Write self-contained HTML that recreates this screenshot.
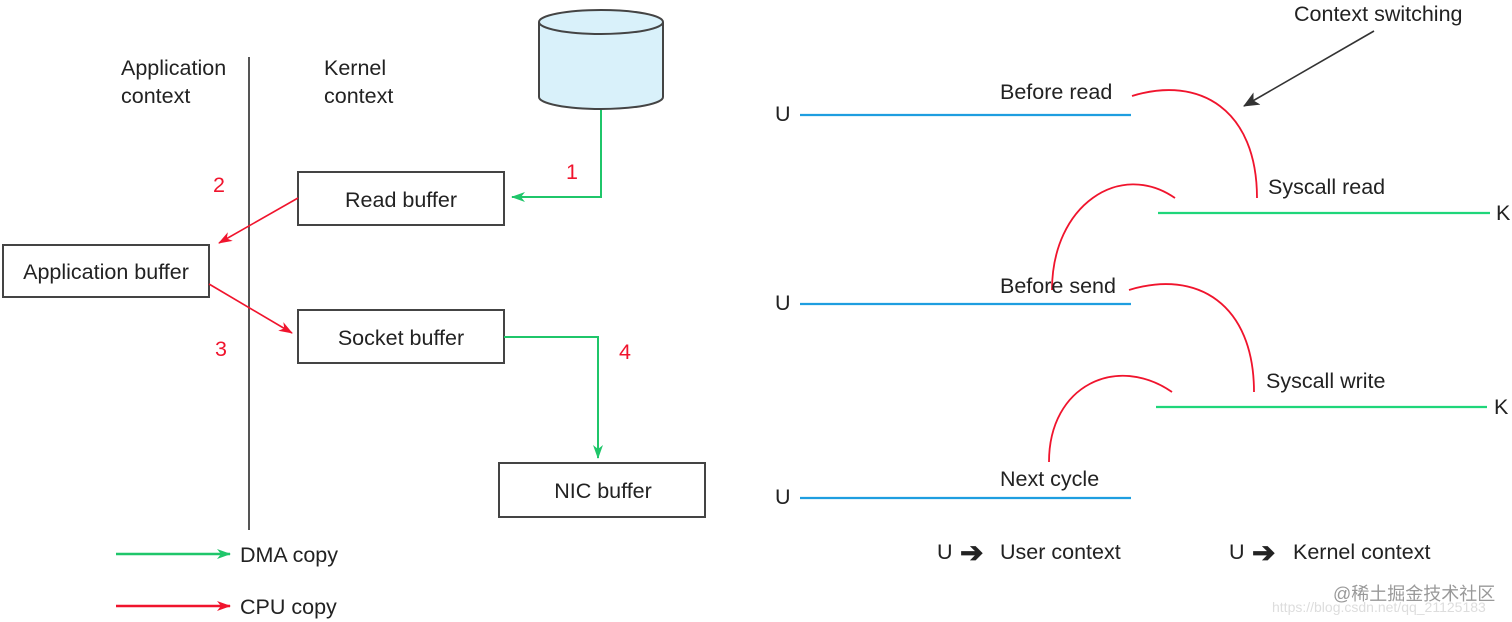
<!DOCTYPE html>
<html><head><meta charset="utf-8"><style>
html,body{margin:0;padding:0;background:#fff;width:1512px;height:622px;overflow:hidden}
svg{display:block}
text{font-family:"Liberation Sans","Noto Sans CJK SC",sans-serif;font-size:21.5px;fill:#222}
.r{fill:#f0142d}
</style></head><body>
<svg width="1512" height="622" viewBox="0 0 1512 622" xmlns="http://www.w3.org/2000/svg">
<defs>
<marker id="ag" markerWidth="14" markerHeight="12" refX="13" refY="6" orient="auto" markerUnits="userSpaceOnUse"><path d="M0,1 L14,6 L0,11 L4,6z" fill="#1fc66a"/></marker>
<marker id="ar" markerWidth="14" markerHeight="12" refX="13" refY="6" orient="auto" markerUnits="userSpaceOnUse"><path d="M0,1 L14,6 L0,11 L4,6z" fill="#f0142d"/></marker>
<marker id="ak" markerWidth="16" markerHeight="14" refX="15" refY="7" orient="auto" markerUnits="userSpaceOnUse"><path d="M0,0 L16,7 L0,14 L4,7z" fill="#333"/></marker>
</defs>
<line x1="249" y1="57" x2="249" y2="530" stroke="#555" stroke-width="2"/>
<text x="121" y="75">Application</text>
<text x="121" y="103">context</text>
<text x="324" y="75">Kernel</text>
<text x="324" y="103">context</text>
<path d="M539,22 L539,97 A62,12 0 0 0 663,97 L663,22" fill="#d9f1fa" stroke="#444" stroke-width="2"/>
<ellipse cx="601" cy="22" rx="62" ry="12" fill="#d9f1fa" stroke="#444" stroke-width="2"/>
<polyline points="601,110 601,197 512,197" fill="none" stroke="#1fc66a" stroke-width="2" marker-end="url(#ag)"/>
<text x="566" y="179" class="r">1</text>
<rect x="298" y="172" width="206" height="53" fill="#fff" stroke="#444" stroke-width="2"/>
<text x="401" y="207" text-anchor="middle">Read buffer</text>
<rect x="3" y="245" width="206" height="52" fill="#fff" stroke="#444" stroke-width="2"/>
<text x="106" y="279" text-anchor="middle">Application buffer</text>
<rect x="298" y="310" width="206" height="53" fill="#fff" stroke="#444" stroke-width="2"/>
<text x="401" y="345" text-anchor="middle">Socket buffer</text>
<rect x="499" y="463" width="206" height="54" fill="#fff" stroke="#444" stroke-width="2"/>
<text x="603" y="498" text-anchor="middle">NIC buffer</text>
<line x1="298" y1="198" x2="219" y2="243" stroke="#f0142d" stroke-width="1.6" marker-end="url(#ar)"/>
<line x1="209" y1="284" x2="292" y2="333" stroke="#f0142d" stroke-width="1.6" marker-end="url(#ar)"/>
<text x="213" y="192" class="r">2</text>
<text x="215" y="356" class="r">3</text>
<polyline points="504,337 598,337 598,458" fill="none" stroke="#1fc66a" stroke-width="2" marker-end="url(#ag)"/>
<text x="619" y="359" class="r">4</text>
<line x1="116" y1="554" x2="230" y2="554" stroke="#1fc66a" stroke-width="2.5" marker-end="url(#ag)"/>
<text x="240" y="562">DMA copy</text>
<line x1="116" y1="606" x2="230" y2="606" stroke="#f0142d" stroke-width="2.5" marker-end="url(#ar)"/>
<text x="240" y="614">CPU copy</text>
<text x="1294" y="21">Context switching</text>
<line x1="1374" y1="31" x2="1244" y2="106" stroke="#333" stroke-width="1.6" marker-end="url(#ak)"/>
<g stroke-width="2.2" fill="none">
<line x1="800" y1="115" x2="1131" y2="115" stroke="#1e9ee0"/>
<line x1="800" y1="304" x2="1131" y2="304" stroke="#1e9ee0"/>
<line x1="800" y1="498" x2="1131" y2="498" stroke="#1e9ee0"/>
<line x1="1158" y1="213" x2="1490" y2="213" stroke="#1fd67a"/>
<line x1="1156" y1="407" x2="1487" y2="407" stroke="#1fd67a"/>
</g>
<g stroke="#f0142d" stroke-width="1.8" fill="none">
<path d="M1132,96 C1200,75 1257,110 1257,198"/>
<path d="M1052,290 C1052,205 1120,160 1175,198"/>
<path d="M1129,290 C1197,269 1254,304 1254,392"/>
<path d="M1049,462 C1049,385 1117,354 1172,392"/>
</g>
<text x="775" y="121">U</text>
<text x="775" y="310">U</text>
<text x="775" y="504">U</text>
<text x="1496" y="220">K</text>
<text x="1494" y="414">K</text>
<text x="1000" y="99">Before read</text>
<text x="1268" y="194">Syscall read</text>
<text x="1000" y="293">Before send</text>
<text x="1266" y="388">Syscall write</text>
<text x="1000" y="486">Next cycle</text>
<text x="937" y="559">U</text>
<text x="960" y="562" style="font-size:28px;font-weight:bold">➔</text>
<text x="1000" y="559">User context</text>
<text x="1229" y="559">U</text>
<text x="1252" y="562" style="font-size:28px;font-weight:bold">➔</text>
<text x="1293" y="559">Kernel context</text>
<text x="1333" y="600" style="font-size:18px;fill:#999">@稀土掘金技术社区</text>
<text x="1272" y="612" style="font-size:14px;fill:#ddd">https://blog.csdn.net/qq_21125183</text>
</svg>
</body></html>
